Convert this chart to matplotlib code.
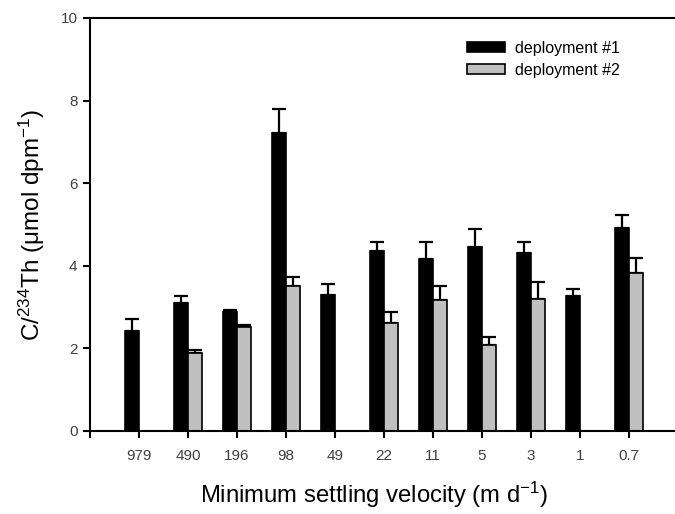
import numpy as np
import matplotlib
matplotlib.use('Agg')
import matplotlib.pyplot as plt

plt.rcParams['font.family'] = ['Liberation Sans', 'DejaVu Sans']
plt.rcParams['mathtext.fontset'] = 'custom'
plt.rcParams['mathtext.rm'] = 'Liberation Sans'
plt.rcParams['mathtext.it'] = 'Liberation Sans'
plt.rcParams['mathtext.default'] = 'regular'

# minimum settling velocity classes (m d-1)
velocities = ['979', '490', '196', '98', '49', '22', '11', '5', '3', '1', '0.7']

# C/234Th ratios and upper error bars; nan = no data
dep1 = [2.42, 3.09, 2.87, 7.22, 3.29, 4.35, 4.17, 4.46, 4.32, 3.27, 4.92]
dep1_err = [0.28, 0.19, 0.06, 0.57, 0.26, 0.23, 0.41, 0.43, 0.26, 0.18, 0.31]
dep2 = [np.nan, 1.88, 2.51, 3.51, np.nan, 2.62, 3.16, 2.08, 3.19, np.nan, 3.83]
dep2_err = [0, 0.08, 0.05, 0.21, 0, 0.26, 0.35, 0.20, 0.41, 0, 0.37]

fig = plt.figure(figsize=(6.75, 5.14), dpi=100)
ax = fig.add_axes([0.1333, 0.1615, 0.8667, 0.8035])

x = np.arange(1, len(velocities) + 1)
w = 0.286
d1 = np.array(dep1)
d2 = np.array(dep2)
e1 = np.array(dep1_err)
e2 = np.array(dep2_err)

ax.bar(x - w / 2, d1, w, color='black', edgecolor='black', linewidth=1.2,
       label='deployment #1', zorder=2)
ax.errorbar(x - w / 2, d1, yerr=[np.zeros_like(e1), e1], fmt='none',
            ecolor='black', elinewidth=1.6, capsize=5, capthick=1.6, zorder=1)
ok = ~np.isnan(d2)
ax.bar(x[ok] + w / 2, d2[ok], w, color='#c0c0c0', edgecolor='black', linewidth=1.2,
       label='deployment #2', zorder=2)
ax.errorbar(x[ok] + w / 2, d2[ok], yerr=[np.zeros(ok.sum()), e2[ok]], fmt='none',
            ecolor='black', elinewidth=1.6, capsize=5, capthick=1.6, zorder=1)

ax.set_xlim(0, 11.94)
ax.set_ylim(0, 10)
ax.set_yticks([0, 2, 4, 6, 8, 10])
ax.set_xticks(np.concatenate([[0], x]))
ax.set_xticklabels([''] + velocities)
ax.tick_params(axis='both', direction='out', length=5, width=1.5,
               labelsize=11, labelcolor='#404040', pad=8)
ax.tick_params(axis='y', pad=4)
for s in ['left', 'bottom', 'top']:
    ax.spines[s].set_linewidth(1.5)
ax.spines['right'].set_visible(False)

ax.set_xlabel('Minimum settling velocity (m d$^{-1}$)', fontsize=17.2, labelpad=12)
ax.xaxis.label.set_x(0.485)
ax.set_ylabel('C/$^{234}$Th (μmol dpm$^{-1}$)', fontsize=17.5, labelpad=10)

ax.legend(loc='upper left', bbox_to_anchor=(0.62, 0.98), frameon=False,
          fontsize=11.5, handlelength=2.4, handleheight=0.6, labelspacing=0.45,
          handletextpad=0.6)

plt.savefig('out.png', dpi=100)
